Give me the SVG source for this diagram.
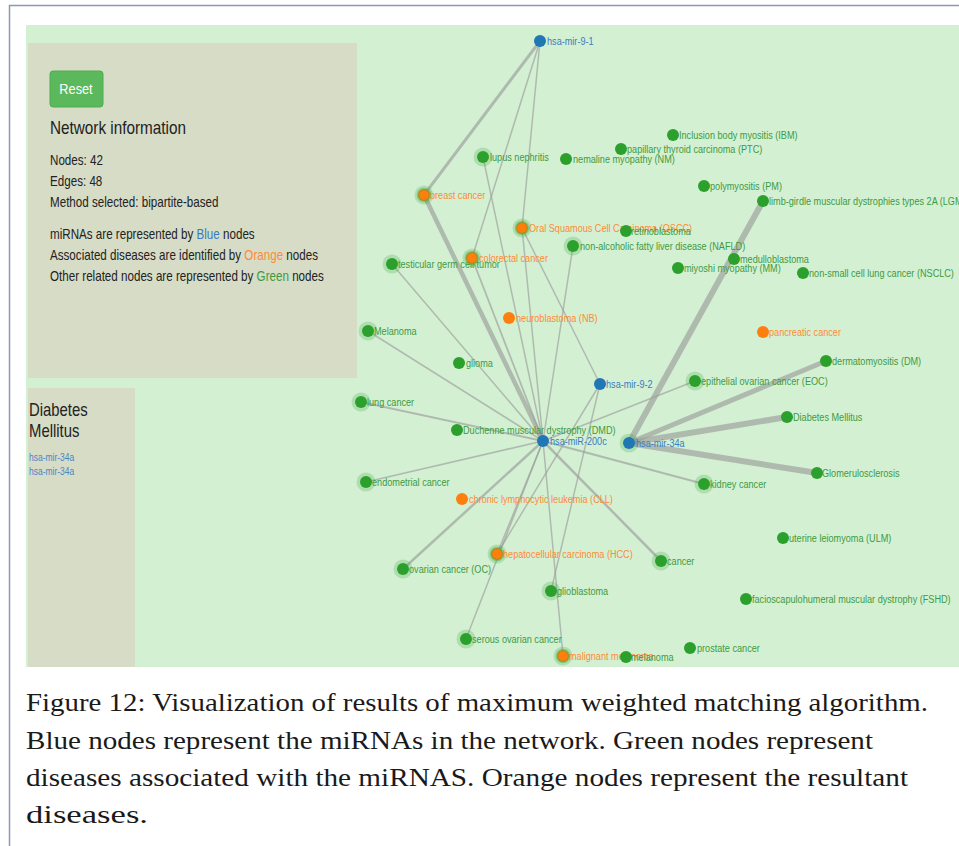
<svg xmlns="http://www.w3.org/2000/svg" width="959" height="846" viewBox="0 0 959 846">
<style>
.e{stroke:#999;stroke-opacity:.62;fill:none;stroke-linecap:round}
.l{font-family:"Liberation Sans",Arial,sans-serif;font-size:11px}
.lg{fill:#3e9a3e}.lo{fill:#ff8a35}.lb{fill:#3b7cc0}
.cg{fill:#2ca02c}.co{fill:#ff7f0e}.cb{fill:#1f77b4}
.halo{fill:#2ca02c;fill-opacity:.22}
.ring{fill:none;stroke:#2ca02c;stroke-opacity:.35;stroke-width:2.5}
.info{font-family:"Liberation Sans",Arial,sans-serif;fill:#222}
.cap{fill:#1a1a1a}
</style>
<rect width="959" height="846" fill="#fff"/>
<line x1="9.5" y1="5" x2="9.5" y2="846" stroke="#8a9ab5" stroke-width="1.5"/>
<line x1="9" y1="5.5" x2="959" y2="5.5" stroke="#8a9ab5" stroke-width="1.5"/>
<rect x="26" y="25" width="933" height="642" fill="#d3f0d3"/>
<g id="info-panel">
<rect x="28" y="43" width="329" height="335" fill="#d7dcc6"/>
<rect x="50" y="71" width="53" height="36" rx="3" fill="#5cb85c" stroke="#4cae4c"/>
<text class="info" transform="translate(76,94) scale(.85,1)" font-size="15" style="fill:#fff" text-anchor="middle">Reset</text>
<text class="info" transform="translate(50,134) scale(.85,1)" font-size="18">Network information</text>
<text class="info" transform="translate(50,165) scale(.83,1)" font-size="14">Nodes: 42</text>
<text class="info" transform="translate(50,186) scale(.83,1)" font-size="14">Edges: 48</text>
<text class="info" transform="translate(50,207) scale(.83,1)" font-size="14">Method selected: bipartite-based</text>
<text class="info" transform="translate(50,239) scale(.83,1)" font-size="14">miRNAs are represented by <tspan style="fill:#3b7cc0">Blue</tspan> nodes</text>
<text class="info" transform="translate(50,260) scale(.83,1)" font-size="14">Associated diseases are identified by <tspan style="fill:#ff8a35">Orange</tspan> nodes</text>
<text class="info" transform="translate(50,281) scale(.83,1)" font-size="14">Other related nodes are represented by <tspan style="fill:#3e9a3e">Green</tspan> nodes</text>
</g>
<g id="detail-panel">
<rect x="28" y="388" width="107" height="279" fill="#d7dcc6"/>
<text class="info" transform="translate(29,416) scale(.85,1)" font-size="17.5">Diabetes</text>
<text class="info" transform="translate(29,437) scale(.85,1)" font-size="17.5">Mellitus</text>
<text class="info" transform="translate(29,461) scale(.85,1)" font-size="10" style="fill:#4a86c8">hsa-mir-34a</text>
<text class="info" transform="translate(29,475) scale(.85,1)" font-size="10" style="fill:#4a86c8">hsa-mir-34a</text>
</g>
<g id="edges">
<line class="e" x1="540" y1="41" x2="424" y2="195" stroke-width="3"/>
<line class="e" x1="540" y1="41" x2="472" y2="258" stroke-width="1.5"/>
<line class="e" x1="540" y1="41" x2="522" y2="228" stroke-width="1.5"/>
<line class="e" x1="424" y1="195" x2="543" y2="441" stroke-width="4.5"/>
<line class="e" x1="483" y1="157" x2="543" y2="441" stroke-width="1.5"/>
<line class="e" x1="472" y1="258" x2="543" y2="441" stroke-width="1.8"/>
<line class="e" x1="522" y1="228" x2="543" y2="441" stroke-width="1.5"/>
<line class="e" x1="522" y1="228" x2="600" y2="384" stroke-width="1.5"/>
<line class="e" x1="573" y1="246" x2="543" y2="441" stroke-width="1.5"/>
<line class="e" x1="392" y1="264" x2="543" y2="441" stroke-width="1.5"/>
<line class="e" x1="368" y1="331" x2="543" y2="441" stroke-width="1.5"/>
<line class="e" x1="361" y1="402" x2="543" y2="441" stroke-width="2"/>
<line class="e" x1="366" y1="482" x2="543" y2="441" stroke-width="1.5"/>
<line class="e" x1="403" y1="569" x2="543" y2="441" stroke-width="2.5"/>
<line class="e" x1="497" y1="554" x2="543" y2="441" stroke-width="1.5"/>
<line class="e" x1="497" y1="554" x2="600" y2="384" stroke-width="1.5"/>
<line class="e" x1="466" y1="639" x2="543" y2="441" stroke-width="1.5"/>
<line class="e" x1="551" y1="591" x2="600" y2="384" stroke-width="1.5"/>
<line class="e" x1="563" y1="656" x2="543" y2="441" stroke-width="1.5"/>
<line class="e" x1="661" y1="561" x2="543" y2="441" stroke-width="2.5"/>
<line class="e" x1="704" y1="484" x2="543" y2="441" stroke-width="2.2"/>
<line class="e" x1="695" y1="381" x2="543" y2="441" stroke-width="1.5"/>
<line class="e" x1="629" y1="443" x2="763" y2="201" stroke-width="6"/>
<line class="e" x1="629" y1="443" x2="826" y2="361" stroke-width="5"/>
<line class="e" x1="629" y1="443" x2="787" y2="417" stroke-width="6"/>
<line class="e" x1="629" y1="443" x2="817" y2="473" stroke-width="6"/>
</g>
<g id="n-lupus"><circle class="halo" cx="483" cy="157" r="9.5"/><circle class="cg" cx="483" cy="157" r="6"/><text class="l lg" transform="translate(490,161) scale(.83,1)">lupus nephritis</text></g>
<g id="n-nm"><circle class="cg" cx="566" cy="159" r="6"/><text class="l lg" transform="translate(573,163) scale(.83,1)">nemaline myopathy (NM)</text></g>
<g id="n-ptc"><circle class="cg" cx="621" cy="149" r="6"/><text class="l lg" transform="translate(627,153) scale(.83,1)">papillary thyroid carcinoma (PTC)</text></g>
<g id="n-ibm"><circle class="cg" cx="673" cy="135" r="6"/><text class="l lg" transform="translate(679,139) scale(.83,1)">Inclusion body myositis (IBM)</text></g>
<g id="n-pm"><circle class="cg" cx="704" cy="186" r="6"/><text class="l lg" transform="translate(710,190) scale(.83,1)">polymyositis (PM)</text></g>
<g id="n-lgmd"><circle class="cg" cx="763" cy="201" r="6"/><text class="l lg" transform="translate(769,205) scale(.83,1)">limb-girdle muscular dystrophies types 2A (LGMD2A)</text></g>
<g id="n-oscc"><circle class="halo" cx="522" cy="228" r="9.5"/><circle class="co" cx="522" cy="228" r="6"/><circle class="ring" cx="522" cy="228" r="6"/><text class="l lo" transform="translate(529,232) scale(.83,1)">Oral Squamous Cell Carcinoma (OSCC)</text></g>
<g id="n-retino"><circle class="cg" cx="626" cy="231" r="6"/><text class="l lg" transform="translate(631,235) scale(.83,1)">retinoblastoma</text></g>
<g id="n-nafld"><circle class="halo" cx="573" cy="246" r="9.5"/><circle class="cg" cx="573" cy="246" r="6"/><text class="l lg" transform="translate(580,250) scale(.83,1)">non-alcoholic fatty liver disease (NAFLD)</text></g>
<g id="n-mm"><circle class="cg" cx="678" cy="268" r="6"/><text class="l lg" transform="translate(684,272) scale(.83,1)">miyoshi myopathy (MM)</text></g>
<g id="n-medullo"><circle class="cg" cx="734" cy="259" r="6"/><text class="l lg" transform="translate(740,263) scale(.83,1)">medulloblastoma</text></g>
<g id="n-nsclc"><circle class="cg" cx="803" cy="273" r="6"/><text class="l lg" transform="translate(809,277) scale(.83,1)">non-small cell lung cancer (NSCLC)</text></g>
<g id="n-breast"><circle class="halo" cx="424" cy="195" r="9.5"/><circle class="co" cx="424" cy="195" r="6"/><circle class="ring" cx="424" cy="195" r="6"/><text class="l lo" transform="translate(430,199) scale(.83,1)">breast cancer</text></g>
<g id="n-testicular"><circle class="halo" cx="392" cy="264" r="9.5"/><circle class="cg" cx="392" cy="264" r="6"/><text class="l lg" transform="translate(398,268) scale(.83,1)">testicular germ cell tumor</text></g>
<g id="n-colorectal"><circle class="halo" cx="472" cy="258" r="9.5"/><circle class="co" cx="472" cy="258" r="6"/><circle class="ring" cx="472" cy="258" r="6"/><text class="l lo" transform="translate(479,262) scale(.83,1)">colorectal cancer</text></g>
<g id="n-nb"><circle class="co" cx="509" cy="318" r="6"/><text class="l lo" transform="translate(516,322) scale(.83,1)">neuroblastoma (NB)</text></g>
<g id="n-pancreatic"><circle class="co" cx="763" cy="332" r="6"/><text class="l lo" transform="translate(769,336) scale(.83,1)">pancreatic cancer</text></g>
<g id="n-Melanoma"><circle class="halo" cx="368" cy="331" r="9.5"/><circle class="cg" cx="368" cy="331" r="6"/><text class="l lg" transform="translate(374,335) scale(.83,1)">Melanoma</text></g>
<g id="n-glioma"><circle class="cg" cx="459" cy="363" r="6"/><text class="l lg" transform="translate(466,367) scale(.83,1)">glioma</text></g>
<g id="n-dm"><circle class="cg" cx="826" cy="361" r="6"/><text class="l lg" transform="translate(832,365) scale(.83,1)">dermatomyositis (DM)</text></g>
<g id="n-eoc"><circle class="halo" cx="695" cy="381" r="9.5"/><circle class="cg" cx="695" cy="381" r="6"/><text class="l lg" transform="translate(701,385) scale(.83,1)">epithelial ovarian cancer (EOC)</text></g>
<g id="n-lung"><circle class="halo" cx="361" cy="402" r="9.5"/><circle class="cg" cx="361" cy="402" r="6"/><text class="l lg" transform="translate(367,406) scale(.83,1)">lung cancer</text></g>
<g id="n-dmd"><circle class="cg" cx="457" cy="430" r="6"/><text class="l lg" transform="translate(463,434) scale(.83,1)">Duchenne muscular dystrophy (DMD)</text></g>
<g id="n-diabetes"><circle class="cg" cx="787" cy="417" r="6"/><text class="l lg" transform="translate(793,421) scale(.83,1)">Diabetes Mellitus</text></g>
<g id="n-glomerulo"><circle class="cg" cx="817" cy="473" r="6"/><text class="l lg" transform="translate(822,477) scale(.83,1)">Glomerulosclerosis</text></g>
<g id="n-kidney"><circle class="halo" cx="704" cy="484" r="9.5"/><circle class="cg" cx="704" cy="484" r="6"/><text class="l lg" transform="translate(710,488) scale(.83,1)">kidney cancer</text></g>
<g id="n-endometrial"><circle class="halo" cx="366" cy="482" r="9.5"/><circle class="cg" cx="366" cy="482" r="6"/><text class="l lg" transform="translate(372,486) scale(.83,1)">endometrial cancer</text></g>
<g id="n-cll"><circle class="co" cx="462" cy="499" r="6"/><text class="l lo" transform="translate(469,503) scale(.83,1)">chronic lymphocytic leukemia (CLL)</text></g>
<g id="n-hcc"><circle class="halo" cx="497" cy="554" r="9.5"/><circle class="co" cx="497" cy="554" r="6"/><circle class="ring" cx="497" cy="554" r="6"/><text class="l lo" transform="translate(503,558) scale(.83,1)">hepatocellular carcinoma (HCC)</text></g>
<g id="n-oc"><circle class="halo" cx="403" cy="569" r="9.5"/><circle class="cg" cx="403" cy="569" r="6"/><text class="l lg" transform="translate(409,573) scale(.83,1)">ovarian cancer (OC)</text></g>
<g id="n-glioblastoma"><circle class="halo" cx="551" cy="591" r="9.5"/><circle class="cg" cx="551" cy="591" r="6"/><text class="l lg" transform="translate(557,595) scale(.83,1)">glioblastoma</text></g>
<g id="n-cancer"><circle class="halo" cx="661" cy="561" r="9.5"/><circle class="cg" cx="661" cy="561" r="6"/><text class="l lg" transform="translate(667,565) scale(.83,1)">cancer</text></g>
<g id="n-ulm"><circle class="cg" cx="783" cy="538" r="6"/><text class="l lg" transform="translate(789,542) scale(.83,1)">uterine leiomyoma (ULM)</text></g>
<g id="n-fshd"><circle class="cg" cx="746" cy="599" r="6"/><text class="l lg" transform="translate(752,603) scale(.83,1)">facioscapulohumeral muscular dystrophy (FSHD)</text></g>
<g id="n-serous"><circle class="halo" cx="466" cy="639" r="9.5"/><circle class="cg" cx="466" cy="639" r="6"/><text class="l lg" transform="translate(472,643) scale(.83,1)">serous ovarian cancer</text></g>
<g id="n-malmel"><circle class="halo" cx="563" cy="656" r="9.5"/><circle class="co" cx="563" cy="656" r="6"/><circle class="ring" cx="563" cy="656" r="6"/><text class="l lo" transform="translate(569,660) scale(.83,1)">malignant melanoma</text></g>
<g id="n-melanoma"><circle class="cg" cx="626" cy="657" r="6"/><text class="l lg" transform="translate(631,661) scale(.83,1)">melanoma</text></g>
<g id="n-prostate"><circle class="cg" cx="690" cy="648" r="6"/><text class="l lg" transform="translate(697,652) scale(.83,1)">prostate cancer</text></g>
<g id="n-mir91"><circle class="cb" cx="540" cy="41" r="6"/><text class="l lb" transform="translate(547,45) scale(.83,1)">hsa-mir-9-1</text></g>
<g id="n-mir92"><circle class="cb" cx="600" cy="384" r="6"/><text class="l lb" transform="translate(606,388) scale(.83,1)">hsa-mir-9-2</text></g>
<g id="n-mir200c"><circle class="cb" cx="543" cy="441" r="6"/><text class="l lb" transform="translate(550,445) scale(.83,1)">hsa-miR-200c</text></g>
<g id="n-mir34a"><circle class="halo" cx="629" cy="443" r="9.5"/><circle class="cb" cx="629" cy="443" r="6"/><text class="l lb" transform="translate(636,447) scale(.83,1)">hsa-mir-34a</text></g>
<g id="caption" font-family="'Liberation Serif', 'Times New Roman', serif" font-size="25">
<text class="cap" x="26" y="711" textLength="902" lengthAdjust="spacingAndGlyphs">Figure 12: Visualization of results of maximum weighted matching algorithm.</text>
<text class="cap" x="26" y="749" textLength="847" lengthAdjust="spacingAndGlyphs">Blue nodes represent the miRNAs in the network. Green nodes represent</text>
<text class="cap" x="26" y="786" textLength="882" lengthAdjust="spacingAndGlyphs">diseases associated with the miRNAS. Orange nodes represent the resultant</text>
<text class="cap" x="26" y="823" textLength="122" lengthAdjust="spacingAndGlyphs">diseases.</text>
</g>
</svg>
